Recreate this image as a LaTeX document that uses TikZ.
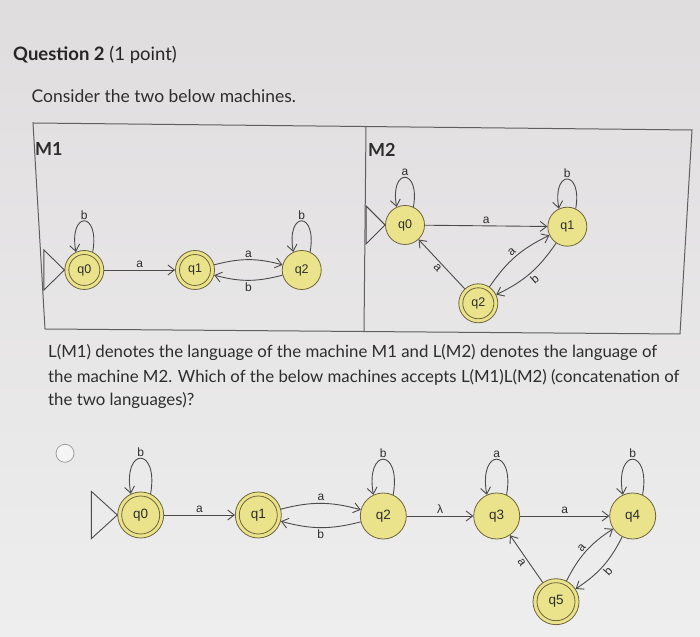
\documentclass[tikz,border=0pt]{standalone}
\usepackage{fontspec}
\setmainfont{Lato}
\newfontfamily\jf{Liberation Sans}
\usetikzlibrary{arrows.meta}
\definecolor{statefill}{RGB}{234,227,140}
\definecolor{stateline}{RGB}{110,100,58}
\definecolor{edgecol}{RGB}{75,75,75}
\definecolor{textcol}{RGB}{45,45,45}
\definecolor{bgtop}{RGB}{224,221,223}
\definecolor{bgbot}{RGB}{238,238,238}
\definecolor{boxcol}{RGB}{95,95,95}
\begin{document}
\begin{tikzpicture}[x=1pt,y=1pt,
  state/.style={circle, draw=stateline, fill=statefill, line width=0.8pt, minimum size=39pt, inner sep=0pt, font=\jf\fontsize{12.5}{12.5}\selectfont, text=textcol},
  bigstate/.style={state, minimum size=46pt, font=\jf\fontsize{13.5}{13.5}\selectfont},
  acc/.style={path picture={\draw[stateline, line width=0.8pt] (path picture bounding box.center) circle (15.5pt);}},
  bigacc/.style={path picture={\draw[stateline, line width=0.8pt] (path picture bounding box.center) circle (19pt);}},
  tr/.style={draw=edgecol, line width=0.9pt, -{Straight Barb[length=6.5pt,width=10pt]}},
  startc/.style={draw=edgecol, line width=0.9pt},
  lbl/.style={font=\jf\fontsize{12}{12}\selectfont, text=textcol, inner sep=2pt},
  qtext/.style={anchor=west, inner sep=0pt, text=textcol, font=\fontsize{16.8}{20}\selectfont},
  boxline/.style={draw=boxcol, line width=1pt}
]
\useasboundingbox (0,0) rectangle (700,636);
\shade[top color=bgtop, bottom color=bgbot] (0,0) rectangle (700,636);

% heading texts
\node[qtext, text=black!85, font=\fontsize{18.5}{20}\selectfont] (title) at (13,581) {\textbf{Question 2} (1 point)};
\node[qtext, font=\fontsize{17.5}{20}\selectfont] (intro) at (31.5,539.5) {Consider the two below machines.};

% frame
\draw[boxline] (33,513) -- (692,506) -- (680,302) -- (45,307) -- cycle;
\draw[boxline] (366,510) -- (364,304);
\node[qtext, font=\bfseries\fontsize{18}{20}\selectfont] (m1) at (35,487.5) {M1};
\node[qtext, font=\bfseries\fontsize{18}{20}\selectfont] (m2) at (368,486) {M2};

% ---------- M1 ----------
\node[state, acc] (a0) at (84.3,366) {q0};
\node[state, acc] (a1) at (195,366) {q1};
\node[state] (a2) at (301.7,366) {q2};
\draw[startc] (a0.west) -- ++(-20.5,20) -- ++(0,-40) -- cycle;
\draw[tr] (a0.65) .. controls +(80:42) and +(100:42) .. node[lbl, above, inner sep=1pt] {b} (a0.115);
\draw[tr] (a2.65) .. controls +(80:42) and +(100:42) .. node[lbl, above, inner sep=1pt] {b} (a2.115);
\draw[tr] (a0) -- node[lbl, above] {a} (a1);
\draw[tr] (a1) to[bend left=15] node[lbl, above] {a} (a2);
\draw[tr] (a2) to[bend left=15] node[lbl, below] {b} (a1);

% ---------- M2 ----------
\node[state] (b0) at (405,411) {q0};
\node[state] (b1) at (567.3,409.3) {q1};
\node[state, acc] (b2) at (478.3,332.7) {q2};
\draw[startc] (b0.west) -- ++(-19,19) -- ++(0,-38) -- cycle;
\draw[tr] (b0.65) .. controls +(80:40) and +(100:40) .. node[lbl, above, inner sep=1pt] {a} (b0.115);
\draw[tr] (b1.65) .. controls +(80:40) and +(100:40) .. node[lbl, above, inner sep=1pt] {b} (b1.115);
\draw[tr] (b0) -- node[lbl, above] {a} (b1);
\draw[tr] (b2) -- node[lbl, sloped, below] {a} (b0);
\draw[tr] (b2) to[bend left=15] node[lbl, sloped, above] {a} (b1);
\draw[tr] (b1) to[bend left=15] node[lbl, sloped, below] {b} (b2);

% ---------- question text ----------
\node[qtext] (p1) at (48,283) {L(M1) denotes the language of the machine M1 and L(M2) denotes the language of};
\node[qtext] (p2) at (48,259) {the machine M2. Which of the below machines accepts L(M1)L(M2) (concatenation of};
\node[qtext] (p3) at (48,235) {the two languages)?};

% ---------- option machine ----------
\node[circle, draw=gray!75, fill=white!92!gray, line width=0.8pt, minimum size=18pt, inner sep=0pt] (radio) at (65,182.7) {};
\node[bigstate, bigacc] (c0) at (140.7,121) {q0};
\node[bigstate, bigacc] (c1) at (258.3,121) {q1};
\node[bigstate] (c2) at (383.3,120) {q2};
\node[bigstate] (c3) at (496.7,120) {q3};
\node[bigstate] (c4) at (632.7,120) {q4};
\node[bigstate, bigacc] (c5) at (556,34.3) {q5};
\draw[startc] (c0.west) -- ++(-26,23.7) -- ++(0,-47.4) -- cycle;
\draw[tr] (c0.65) .. controls +(80:48) and +(100:48) .. node[lbl, above, inner sep=1pt] {b} (c0.115);
\draw[tr] (c2.65) .. controls +(80:48) and +(100:48) .. node[lbl, above, inner sep=1pt] {b} (c2.115);
\draw[tr] (c3.65) .. controls +(80:48) and +(100:48) .. node[lbl, above, inner sep=1pt] {a} (c3.115);
\draw[tr] (c4.65) .. controls +(80:48) and +(100:48) .. node[lbl, above, inner sep=1pt] {b} (c4.115);
\draw[tr] (c0) -- node[lbl, above] {a} (c1);
\draw[tr] (c1) to[bend left=15] node[lbl, above] {a} (c2);
\draw[tr] (c2) to[bend left=15] node[lbl, below] {b} (c1);
\draw[tr] (c2) -- node[lbl, above] {λ} (c3);
\draw[tr] (c3) -- node[lbl, above] {a} (c4);
\draw[tr] (c5) -- node[lbl, sloped, below] {a} (c3);
\draw[tr] (c5) to[bend left=15] node[lbl, sloped, above] {a} (c4);
\draw[tr] (c4) to[bend left=15] node[lbl, sloped, below] {b} (c5);
\end{tikzpicture}
\end{document}
